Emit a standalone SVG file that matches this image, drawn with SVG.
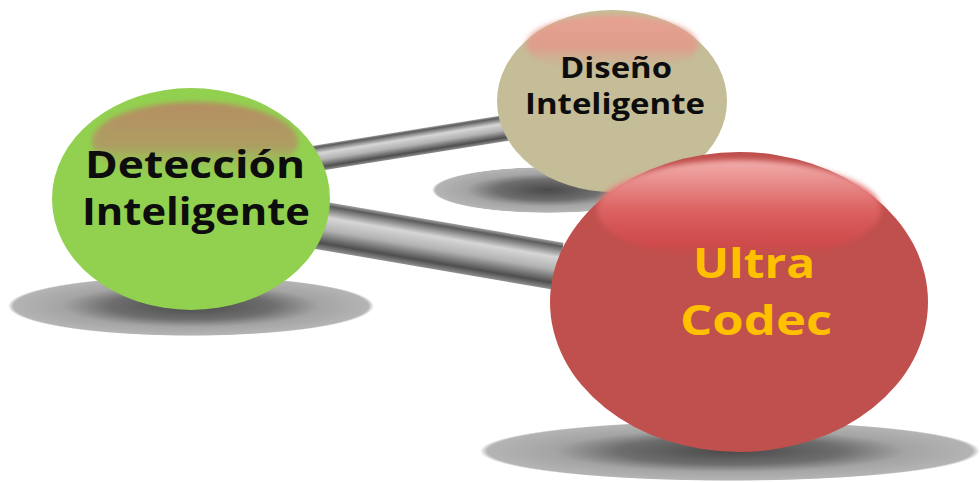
<svg xmlns="http://www.w3.org/2000/svg" width="980" height="482" viewBox="0 0 980 482">
<defs>
<radialGradient id="shadow" cx="0.5" cy="0.5" r="0.5">
<stop offset="0" stop-color="#4a4a4a"/>
<stop offset="0.45" stop-color="#6e6e6e"/>
<stop offset="0.7" stop-color="#a4a4a4"/>
<stop offset="0.97" stop-color="#b4b4b4"/>
<stop offset="1" stop-color="#b4b4b4" stop-opacity="0"/>
</radialGradient>
<linearGradient id="bar" x1="0" y1="0" x2="0" y2="1">
<stop offset="0" stop-color="#a0a0a0"/>
<stop offset="0.08" stop-color="#5c5c5c"/>
<stop offset="0.32" stop-color="#d6d6d6"/>
<stop offset="0.58" stop-color="#b2b2b2"/>
<stop offset="0.86" stop-color="#4e4e4e"/>
<stop offset="1" stop-color="#909090"/>
</linearGradient>
<linearGradient id="hlGreen" x1="0" y1="0" x2="0" y2="1">
<stop offset="0" stop-color="#b58e62"/>
<stop offset="0.55" stop-color="#b39466" stop-opacity="0.85"/>
<stop offset="1" stop-color="#92d050" stop-opacity="0"/>
</linearGradient>
<linearGradient id="hlTan" x1="0" y1="0" x2="0" y2="1">
<stop offset="0" stop-color="#e7a192"/>
<stop offset="0.55" stop-color="#e3988a" stop-opacity="0.85"/>
<stop offset="1" stop-color="#c4bd97" stop-opacity="0"/>
</linearGradient>
<linearGradient id="hlRed" x1="0" y1="0" x2="0" y2="1">
<stop offset="0" stop-color="#f1aeac"/>
<stop offset="0.5" stop-color="#dc6262"/>
<stop offset="0.85" stop-color="#d4484a" stop-opacity="0.75"/>
<stop offset="1" stop-color="#c0504d" stop-opacity="0"/>
</linearGradient>
<filter id="soft" x="-10%" y="-20%" width="120%" height="140%">
<feGaussianBlur stdDeviation="2.5"/>
</filter>
<style>
.lbl{font-family:"Open Sans","Liberation Sans",sans-serif;font-weight:bold;text-anchor:middle}
.dark{fill:#0d0d0d}
.gold{fill:#ffc000}
.hl{filter:url(#soft)}
</style>
</defs>
<rect width="980" height="482" fill="#ffffff"/>
<g id="shadows">
<ellipse cx="191" cy="306" rx="183" ry="30" fill="url(#shadow)"/>
<ellipse cx="548" cy="190" rx="116" ry="23" fill="url(#shadow)"/>
<ellipse cx="730" cy="451" rx="250" ry="30" fill="url(#shadow)"/>
</g>
<g id="connectors">
<rect x="0" y="-13" width="200" height="26" fill="url(#bar)" transform="translate(312,159) rotate(-9.1)"/>
<rect x="0" y="-24" width="245" height="48" fill="url(#bar)" transform="translate(318,225) rotate(9.74)"/>
</g>
<g id="node-diseno">
<ellipse cx="612" cy="101" rx="115" ry="91" fill="#c4bd97"/>
<ellipse class="hl" cx="612" cy="45" rx="86" ry="30" fill="url(#hlTan)"/>
<text class="lbl dark" x="616" y="78" font-size="28" textLength="112" lengthAdjust="spacingAndGlyphs">Diseño</text>
<text class="lbl dark" x="615" y="114" font-size="28" textLength="180" lengthAdjust="spacingAndGlyphs">Inteligente</text>
</g>
<g id="node-deteccion">
<ellipse cx="191" cy="199" rx="139" ry="111" fill="#92d050"/>
<ellipse class="hl" cx="195" cy="142" rx="103" ry="40" fill="url(#hlGreen)"/>
<text class="lbl dark" x="195" y="178" font-size="38" textLength="220" lengthAdjust="spacingAndGlyphs">Detección</text>
<text class="lbl dark" x="196" y="225" font-size="38" textLength="228" lengthAdjust="spacingAndGlyphs">Inteligente</text>
</g>
<g id="node-ultra">
<ellipse cx="739" cy="302" rx="189" ry="150" fill="#c0504d"/>
<ellipse class="hl" cx="739" cy="210" rx="142" ry="50" fill="url(#hlRed)"/>
<text class="lbl gold" x="754" y="278" font-size="42" textLength="122" lengthAdjust="spacingAndGlyphs">Ultra</text>
<text class="lbl gold" x="756" y="335" font-size="42" textLength="152" lengthAdjust="spacingAndGlyphs">Codec</text>
</g>
</svg>
